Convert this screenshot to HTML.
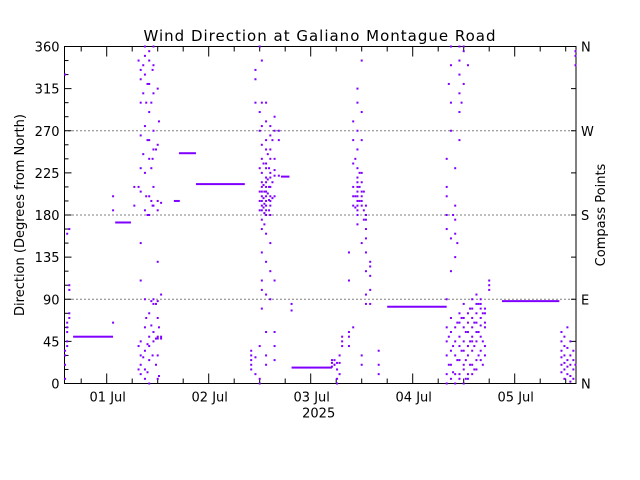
<!DOCTYPE html>
<html><head><meta charset="utf-8"><style>
html,body{margin:0;padding:0;background:#fff;}
svg{display:block;font-family:"DejaVu Sans","Liberation Sans",sans-serif;}
</style></head><body>
<svg id="chart" width="640" height="480" viewBox="0 0 640 480">
<rect x="0" y="0" width="640" height="480" fill="#fff"/>
<text x="320" y="41" text-anchor="middle" font-size="15" letter-spacing="1" fill="#000">Wind Direction at Galiano Montague Road</text>
<text transform="translate(24,215) rotate(-90)" text-anchor="middle" font-size="13" fill="#000">Direction (Degrees from North)</text>
<text transform="translate(605,215) rotate(-90)" text-anchor="middle" font-size="13" fill="#000">Compass Points</text>
<g id="grid"></g><g id="axes"></g><g id="marks"></g>
</svg>
<script>
// data (hours since 01 Jul 2025 00:00, degrees)
var yTicks=[0,45,90,135,180,225,270,315,360];
var compassLabels=["N","E","S","W","N"];
var compassDirs=[0,90,180,270,360];
var dayLabels=["01 Jul","02 Jul","03 Jul","04 Jul","05 Jul"];
var dayHours=[0,24,48,72,96];
var segStart=[-7.9,2.0,15.8,17.0,21.0,41.0,43.5,66.0,93.0];
var segEnd=[1.5,5.7,17.2,21.0,32.5,43.0,53.0,80.0,106.5];
var segDir=[50,172,195,246,213,221,17,82,88];
var groupHours=[-9.8,-9.3,-8.8,1.5,6.5,8,8.6,9,9.6,10,10.5,11,11.6,12,12.8,34,35,36,36.5,37.5,38.5,39.5,40.5,43.5,53,53.6,54.2,54.8,55.4,57,58,59,60,61,62,64,80,81,82,83,84,85,86,87,88,89,90,107,107.7,108.4,109.1,109.8,110.3,
 7.5,9.3,10.8,12.3,36.9,37.1,37.9,38.2,39,58.5,59.5,60.5,80.5,81.5,82.5,83.5,84.5,85.5,86.5,87.5,88.5];
var groupDirs=[
[5,20,30,35,330],[40,45,55,60,65,160],[70,75,100,105,165],
[65,185,200],[190,210],
[335,325,300,265,230,205,150,110,45,30,20,10],[340,310,245,28],
[350,360,330,275,225,185,90,60,35,15,5],[320,260,180,42,12],
[355,345,320,290,260,240,200,180,75,50,40,25,0],[300,230,195,88,62],
[360,340,310,270,250,210,190,90,85,55,45],[250,85,48,20],
[315,255,195,185,130,88,70,50,48,30,5],[50,48,95,193],
[35,30,25,20,15],[335,325,10,300,28],[360,290,270,230,205,195,185,40,5,0],
[345,300,275,255,240,225,215,210,205,200,195,190,185,175,165,140,110,100,80],
[300,280,260,250,235,230,220,215,210,205,200,195,190,185,180,160,130,95,55,30,20],
[275,265,250,240,225,220,210,200,195,190,180,150,120,90],
[285,270,240,228,222,200,110,55,40,25],[270,260,222],[85,78],
[25,22,18],[20,25,20],[15,5,0,22],[10,22,30],[40,50,45],
[50,40,55,110,140],[60,190,235,260,280,200,210],
[230,215,205,195,190,185,200,210,220,250,270,300,315,180,170],
[200,195,190,205,215,225,260,290,345,150,30,20],
[180,175,165,155,140,120,95,85,190],[130,125,115,100,85],[20,10,35],
[90,60,45,30,10,0,165,180,210,240,200],[270,300,340,360,155,120,70,55,35,20,5],
[230,190,175,160,135,60,45,30,10,0],[360,345,330,310,290,260,75,65,50,40,25,10,5],
[360,355,320,85,70,60,45,35,20,15,0],[65,55,40,30,10,75,5,340],
[80,70,60,50,45,35,20,10,90],[75,65,55,45,95,85,25,15],
[90,85,80,70,62,50,35,25],[80,75,65,60,40,30],[110,105,100],
[55,45,35,28,20,12],[50,40,30,22,15,5],[60,38,25,18,10],[45,30,20,8,2],[35,25,15,5],[350,340,355,20],
[345,210,40,15],[300,200,70],[335,240,190,30],[280,60,8],
[235,212,198,188],[205,192,182,170],[245,218,203],[230,210,196,185],[260,215,198],
[200,188,240],[210,195,225],[185,205,175],
[50,20,320],[180,40,12],[65,25,150],[70,35,300],[55,25,5],[45,20,80],[65,40,15],[55,30,85],[75,45,20]];
var NS="http://www.w3.org/2000/svg";
var L=64.5,R=576,T=46.5,B=383.5;
function xScale(h){return 106.7+h*(102/24);}
function yScale(d){return B-d*(B-T)/360;}
function mk(tag,attrs,parent){var e=document.createElementNS(NS,tag);for(var k in attrs)e.setAttribute(k,attrs[k]);parent.appendChild(e);return e;}
var grid=document.getElementById('grid'),axes=document.getElementById('axes'),marks=document.getElementById('marks');
[90,180,270].forEach(function(d){
 var g=mk('line',{x1:L,x2:R,y1:yScale(d),y2:yScale(d),stroke:'#000','stroke-width':1,'stroke-dasharray':'1,3'},grid);
 
 
});
var fr=mk('rect',{x:L,y:T,width:R-L,height:B-T,fill:'none',stroke:'#000','stroke-width':1},axes);


for(var d=0;d<=360;d+=15){
 var len=(d%45===0)?7:4;
 mk('line',{x1:L,x2:L+len,y1:yScale(d),y2:yScale(d),stroke:'#000'},axes);
}
yTicks.forEach(function(d){
 var t=mk('text',{x:L-5,y:yScale(d)+5,'text-anchor':'end','font-size':13},axes);
 t.textContent=d;
 
 
});
for(var d2=0;d2<=360;d2+=45){mk('line',{x1:R-5,x2:R,y1:yScale(d2),y2:yScale(d2),stroke:'#000'},axes);}
compassDirs.forEach(function(d,i){
 var t=mk('text',{x:R+5,y:yScale(d)+5,'font-size':13},axes);
 t.textContent=compassLabels[i];
 
 
});
for(var h=-12;h<=120;h+=6){
 var x=xScale(h);if(x<L||x>R)continue;
 var len2=(h%24===0)?10:5;
 mk('line',{x1:x,x2:x,y1:B,y2:B-len2,stroke:'#000'},axes);
 mk('line',{x1:x,x2:x,y1:T,y2:T+len2,stroke:'#000'},axes);
}
dayHours.forEach(function(h,i){
 var t=mk('text',{x:xScale(h)+1,y:B+18,'text-anchor':'middle','font-size':13},axes);
 t.textContent=dayLabels[i];
 
 
});
var yr=mk('text',{x:xScale(48)+8,y:B+34,'text-anchor':'middle','font-size':13},axes);
yr.textContent='2025';


var col='#8000ff';
segStart.forEach(function(s,i){
 var r=mk('rect',{x:xScale(s),y:yScale(segDir[i])-1,width:xScale(segEnd[i])-xScale(s),height:2,fill:col},marks);
 
 
});
groupHours.forEach(function(h,i){
 groupDirs[i].forEach(function(d){
  var p=mk('rect',{x:xScale(h)-1,y:yScale(d)-1,width:2,height:2,fill:col},marks);
  
  
 });
});
</script>
</body></html>
